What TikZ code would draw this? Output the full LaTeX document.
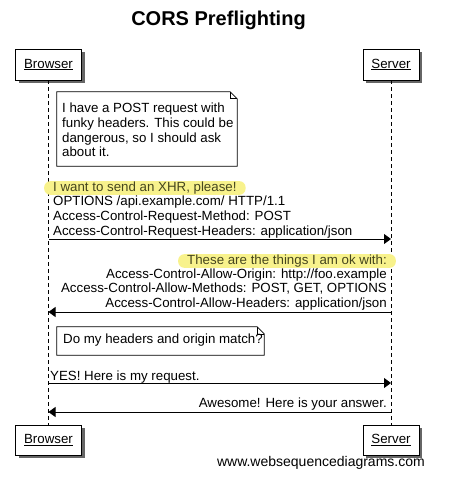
\documentclass[tikz,border=0pt]{standalone}
\usepackage{fontspec}
\setmainfont{Liberation Sans}
\usetikzlibrary{arrows.meta,shadows}

\definecolor{hilite}{RGB}{248,242,140}
\definecolor{hitext}{RGB}{70,70,30}

\tikzset{
  actor/.style={draw=black, fill=white, line width=0.8pt, inner sep=0pt,
    minimum height=31pt, font=\fontsize{13.3}{14}\selectfont,
    drop shadow={shadow xshift=3pt, shadow yshift=-3pt, fill=black, opacity=0.6}},
  life/.style={black, line width=0.8pt, dash pattern=on 4pt off 3pt},
  msg/.style={black, line width=0.8pt, -{Triangle[length=7pt,width=10pt]}},
  txt/.style={inner sep=0pt, font=\fontsize{13.3}{14.6}\selectfont},
  hilitebox/.style={txt, fill=hilite, text=hitext, rounded corners=6pt,
    inner xsep=9pt, inner ysep=0.6pt},
  notetxt/.style={inner sep=0pt, font=\fontsize{13.3}{14.6}\selectfont, align=left}
}

\begin{document}
\begin{tikzpicture}[x=1pt,y=1pt]
		\useasboundingbox (0,0) rectangle (449,-489);
		\node [font=\fontsize{20}{22}\selectfont\bfseries] (title) at (218.5,-20) {CORS Preflighting};
		% actors
		\node [actor, minimum width=66pt] (bt) at (48.5,-64.5) {\underline{Browser}};
		\node [actor, minimum width=56pt] (st) at (391,-64.5) {\underline{Server}};
		\node [actor, minimum width=66pt, minimum height=30pt] (bb) at (48.5,-440) {\underline{Browser}};
		\node [actor, minimum width=56pt, minimum height=30pt] (sb) at (391,-440) {\underline{Server}};
		\draw [life] (bt.south) -- (bb.north);
		\draw [life] (st.south) -- (sb.north);
		% first note
		\node [notetxt, minimum width=180pt, minimum height=74pt, text width=170pt] (note1) at (147,-129) {};
		\draw [black, line width=0.8pt, fill=white] (note1.north west) -- ([xshift=-7pt]note1.north east) -- ([yshift=-7pt]note1.north east) -- (note1.south east) -- (note1.south west) -- cycle;
		\draw [black, line width=0.6pt] ([xshift=-7pt]note1.north east) -- ([xshift=-7pt,yshift=-7pt]note1.north east) -- ([yshift=-7pt]note1.north east);
		\node [notetxt, anchor=west] (worry) at (62,-130) {I have a POST request with\\funky headers. This could be\\dangerous, so I should ask\\about it.};
		% preflight request
		\node [hilitebox, anchor=west] (ask) at (44,-188) {I want to send an XHR, please!};
		\node [txt, align=left, anchor=north west] (req) at (53,-196) {OPTIONS /api.example.com/ HTTP/1.1\\Access-Control-Request-Method: POST\\Access-Control-Request-Headers: application/json};
		\coordinate (b1) at (48.5,-239);
		\coordinate (s1) at (391,-239);
		\draw [msg] (b1) -- (s1);
		% preflight answer
		\node [hilitebox, anchor=east] (okay) at (396,-261) {These are the things I am ok with:};
		\node [txt, align=right, anchor=north east] (resp) at (387,-268.5) {Access-Control-Allow-Origin: http://foo.example\\Access-Control-Allow-Methods: POST, GET, OPTIONS\\Access-Control-Allow-Headers: application/json};
		\coordinate (s2) at (391,-312);
		\coordinate (b2) at (48.5,-312);
		\draw [msg] (s2) -- (b2);
		% second note
		\node [notetxt, minimum width=207pt, minimum height=28pt, text width=197pt] (note2) at (160.5,-341) {};
		\draw [black, line width=0.8pt, fill=white] (note2.north west) -- ([xshift=-7pt]note2.north east) -- ([yshift=-7pt]note2.north east) -- (note2.south east) -- (note2.south west) -- cycle;
		\draw [black, line width=0.6pt] ([xshift=-7pt]note2.north east) -- ([xshift=-7pt,yshift=-7pt]note2.north east) -- ([yshift=-7pt]note2.north east);
		\node [txt, anchor=west] (match) at (63,-340) {Do my headers and origin match?};
		% real request
		\node [txt, anchor=west] (yes) at (50,-377) {YES! Here is my request.};
		\coordinate (b3) at (48.5,-383);
		\coordinate (s3) at (391,-383);
		\draw [msg] (b3) -- (s3);
		\node [txt, anchor=east] (answer) at (387,-404) {Awesome! Here is your answer.};
		\coordinate (s4) at (391,-412);
		\coordinate (b4) at (48.5,-412);
		\draw [msg] (s4) -- (b4);
		% footer
		\node [txt, font=\fontsize{14}{15}\selectfont, anchor=east] (site) at (425,-463) {www.websequencediagrams.com};
\end{tikzpicture}
\end{document}
